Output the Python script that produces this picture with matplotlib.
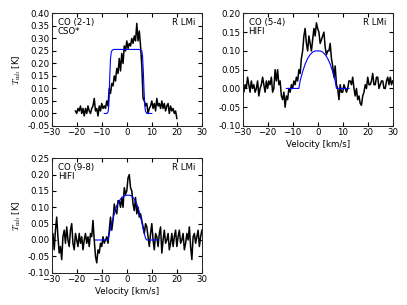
import numpy as np
import matplotlib
matplotlib.use('Agg')
import matplotlib.pyplot as plt

plt.rcParams['mathtext.fontset'] = 'cm'
plt.rcParams['font.size'] = 6.2
plt.rcParams['xtick.direction'] = 'in'
plt.rcParams['ytick.direction'] = 'in'
plt.rcParams['xtick.top'] = True
plt.rcParams['ytick.right'] = True
plt.rcParams['xtick.major.size'] = 3
plt.rcParams['ytick.major.size'] = 3
plt.rcParams['axes.linewidth'] = 0.7
plt.rcParams['axes.edgecolor'] = '#222222'

# CO (2-1) CSO* spectrum, channels every 0.5 km/s from -20.5 to 20
v21 = np.arange(-20.5, 20.01, 0.5)
t21 = [0.01, 0.00, 0.02, 0.01, 0.03, 0.00, 0.02, -0.01, 0.02, 0.00,
       0.03, 0.01, 0.00, 0.02, 0.03, 0.06, 0.01, 0.02, -0.01, 0.03,
       0.01, 0.04, 0.02, 0.03, 0.02, 0.05, 0.03, 0.10, 0.08, 0.12,
       0.11, 0.15, 0.13, 0.18, 0.16, 0.22, 0.17, 0.24, 0.20, 0.27,
       0.25, 0.29, 0.26, 0.28, 0.27, 0.30, 0.28, 0.31, 0.29, 0.36,
       0.29, 0.33, 0.27, 0.19, 0.06, 0.05, 0.03, 0.04, 0.00, 0.02,
       0.03, 0.05, 0.02, 0.04, 0.01, 0.06, 0.03, 0.04, 0.02, 0.05,
       0.02, 0.04, 0.01, 0.03, 0.04, 0.00, 0.03, 0.01, 0.02, 0.00,
       0.01, -0.02]
m21_v = [-9.0, -8.0, -7.5, -7.2, -7.0, -6.8, -6.5, -6.2, -6.0, -5.5, -5.0, 0.0,
         4.5, 5.5, 6.0, 6.3, 6.6, 6.9, 7.2, 7.5, 8.0, 10.0]
m21_t = [0.0, 0.0, 0.005, 0.03, 0.08, 0.15, 0.22, 0.245, 0.25, 0.255, 0.256, 0.256,
         0.256, 0.255, 0.25, 0.23, 0.17, 0.09, 0.03, 0.008, 0.0, 0.0]

# CO (5-4) HIFI spectrum, channels every 0.5 km/s from -30 to 30
v54 = np.arange(-30.0, 30.01, 0.5)
t54 = [0.00, -0.01, 0.01, 0.00, 0.03, 0.01, -0.01, 0.02, 0.00, 0.01,
       -0.01, 0.00, 0.02, -0.02, 0.00, 0.01, 0.03, 0.01, -0.01, 0.02,
       0.00, 0.02, 0.01, 0.03, -0.01, 0.00, 0.05, 0.02, 0.05, 0.01,
       0.02, -0.02, -0.03, -0.01, -0.05, -0.02, -0.03, 0.00, -0.01, 0.01,
       0.00, 0.02, 0.01, 0.03, 0.02, 0.05, 0.04, 0.08, 0.10, 0.14,
       0.16, 0.12, 0.10, 0.14, 0.12, 0.10, 0.13, 0.16, 0.14, 0.175,
       0.16, 0.15, 0.12, 0.13, 0.14, 0.15, 0.11, 0.09, 0.10, 0.10,
       0.12, 0.08, 0.06, 0.03, 0.06, 0.01, 0.00, -0.03, 0.01, -0.01,
       -0.01, 0.01, 0.00, -0.01, 0.00, 0.02, 0.02, 0.01, 0.03, 0.00,
       -0.02, 0.00, -0.03, -0.02, -0.04, -0.045, -0.02, -0.01, 0.01, 0.00,
       0.03, 0.01, 0.01, 0.02, 0.04, 0.01, 0.01, 0.03, 0.03, 0.00,
       0.01, 0.02, 0.02, 0.00, 0.00, 0.02, 0.03, 0.01, 0.03, 0.01,
       0.02]
m54_v = [-12.5, -7.5, -7.0, -6.0, -5.0, -4.0, -3.0, -2.0, -1.0, 0.0,
         1.0, 2.0, 3.0, 4.0, 5.0, 6.0, 7.0, 7.5, 12.5]
m54_t = [0.0, 0.0, 0.02, 0.045, 0.065, 0.08, 0.09, 0.097, 0.10, 0.10,
         0.10, 0.097, 0.09, 0.08, 0.065, 0.045, 0.02, 0.0, 0.0]

# CO (9-8) HIFI spectrum, channels every 0.5 km/s from -30 to 30
v98 = np.arange(-30.0, 30.01, 0.5)
t98 = [0.00, 0.02, -0.03, 0.03, 0.07, 0.01, -0.04, -0.02, -0.06, 0.01,
       0.03, -0.01, 0.04, 0.00, -0.02, 0.03, 0.05, -0.01, -0.03, 0.02,
       0.00, -0.02, 0.02, -0.01, 0.01, -0.03, 0.00, 0.02, -0.01, 0.01,
       -0.02, 0.02, 0.01, 0.06, 0.00, -0.05, -0.07, -0.03, -0.04, -0.01,
       -0.02, 0.01, -0.01, 0.00, 0.01, -0.01, 0.03, 0.07, 0.03, 0.06,
       0.11, 0.09, 0.08, 0.12, 0.12, 0.10, 0.13, 0.10, 0.16, 0.14,
       0.15, 0.19, 0.20, 0.16, 0.15, 0.11, 0.09, 0.13, 0.08, 0.10,
       0.07, 0.08, 0.06, 0.04, 0.02, 0.05, 0.04, 0.01, -0.02, 0.02,
       0.05, 0.00, -0.03, 0.02, 0.01, -0.02, 0.02, 0.04, -0.04, 0.00,
       0.03, -0.01, 0.00, 0.02, -0.03, -0.01, 0.02, -0.02, 0.01, 0.03,
       -0.02, 0.01, 0.03, -0.01, 0.00, 0.02, -0.03, -0.01, 0.02, 0.00,
       0.04, -0.02, -0.06, 0.01, 0.02, -0.01, 0.01, 0.03, -0.02, 0.01,
       0.03]
m98_v = [-12.5, -7.5, -7.0, -6.0, -5.0, -4.0, -3.0, -2.0, -1.0, 0.0,
         1.0, 2.0, 3.0, 4.0, 5.0, 6.0, 7.0, 7.5, 8.0, 12.5]
m98_t = [0.0, 0.0, 0.02, 0.05, 0.08, 0.105, 0.12, 0.13, 0.135, 0.137,
         0.137, 0.135, 0.125, 0.11, 0.085, 0.055, 0.02, 0.005, 0.0, 0.0]

panels = [
    dict(v=v21, t=t21, mv=m21_v, mt=m21_t, line='CO (2-1)\nCSO*',
         ylim=(-0.05, 0.40), yticks=np.arange(-0.05, 0.401, 0.05),
         rect=[0.127, 0.587, 0.369, 0.369], xlabel=False, ylabel=True),
    dict(v=v54, t=t54, mv=m54_v, mt=m54_t, line='CO (5-4)\nHIFI',
         ylim=(-0.10, 0.20), yticks=np.arange(-0.10, 0.201, 0.05),
         rect=[0.596, 0.587, 0.369, 0.369], xlabel=True, ylabel=False),
    dict(v=v98, t=t98, mv=m98_v, mt=m98_t, line='CO (9-8)\nHIFI',
         ylim=(-0.10, 0.25), yticks=np.arange(-0.10, 0.251, 0.05),
         rect=[0.127, 0.106, 0.369, 0.375], xlabel=True, ylabel=True),
]

fig = plt.figure(figsize=(4.07, 3.05), dpi=100)
for p in panels:
    ax = fig.add_axes(p['rect'])
    ax.plot(p['v'], p['t'], color='black', lw=1.1)
    ax.plot(p['mv'], p['mt'], color='blue', lw=0.8)
    ax.set_xlim(-30, 30)
    ax.set_ylim(*p['ylim'])
    ax.set_xticks(np.arange(-30, 31, 10))
    ax.set_yticks(p['yticks'])
    ax.set_yticklabels(['%.2f' % y for y in p['yticks']])
    ax.tick_params(labelsize=6.2, pad=1.5)
    ax.text(0.04, 0.96, p['line'], transform=ax.transAxes, va='top', ha='left',
            linespacing=1.0)
    ax.text(0.96, 0.96, 'R LMi', transform=ax.transAxes, va='top', ha='right')
    if p['xlabel']:
        ax.set_xlabel('Velocity [km/s]', labelpad=2)
    if p['ylabel']:
        ax.set_ylabel(r'$T_{\rm mb}$ [K]', labelpad=3)

fig.savefig('out.png', dpi=100)
